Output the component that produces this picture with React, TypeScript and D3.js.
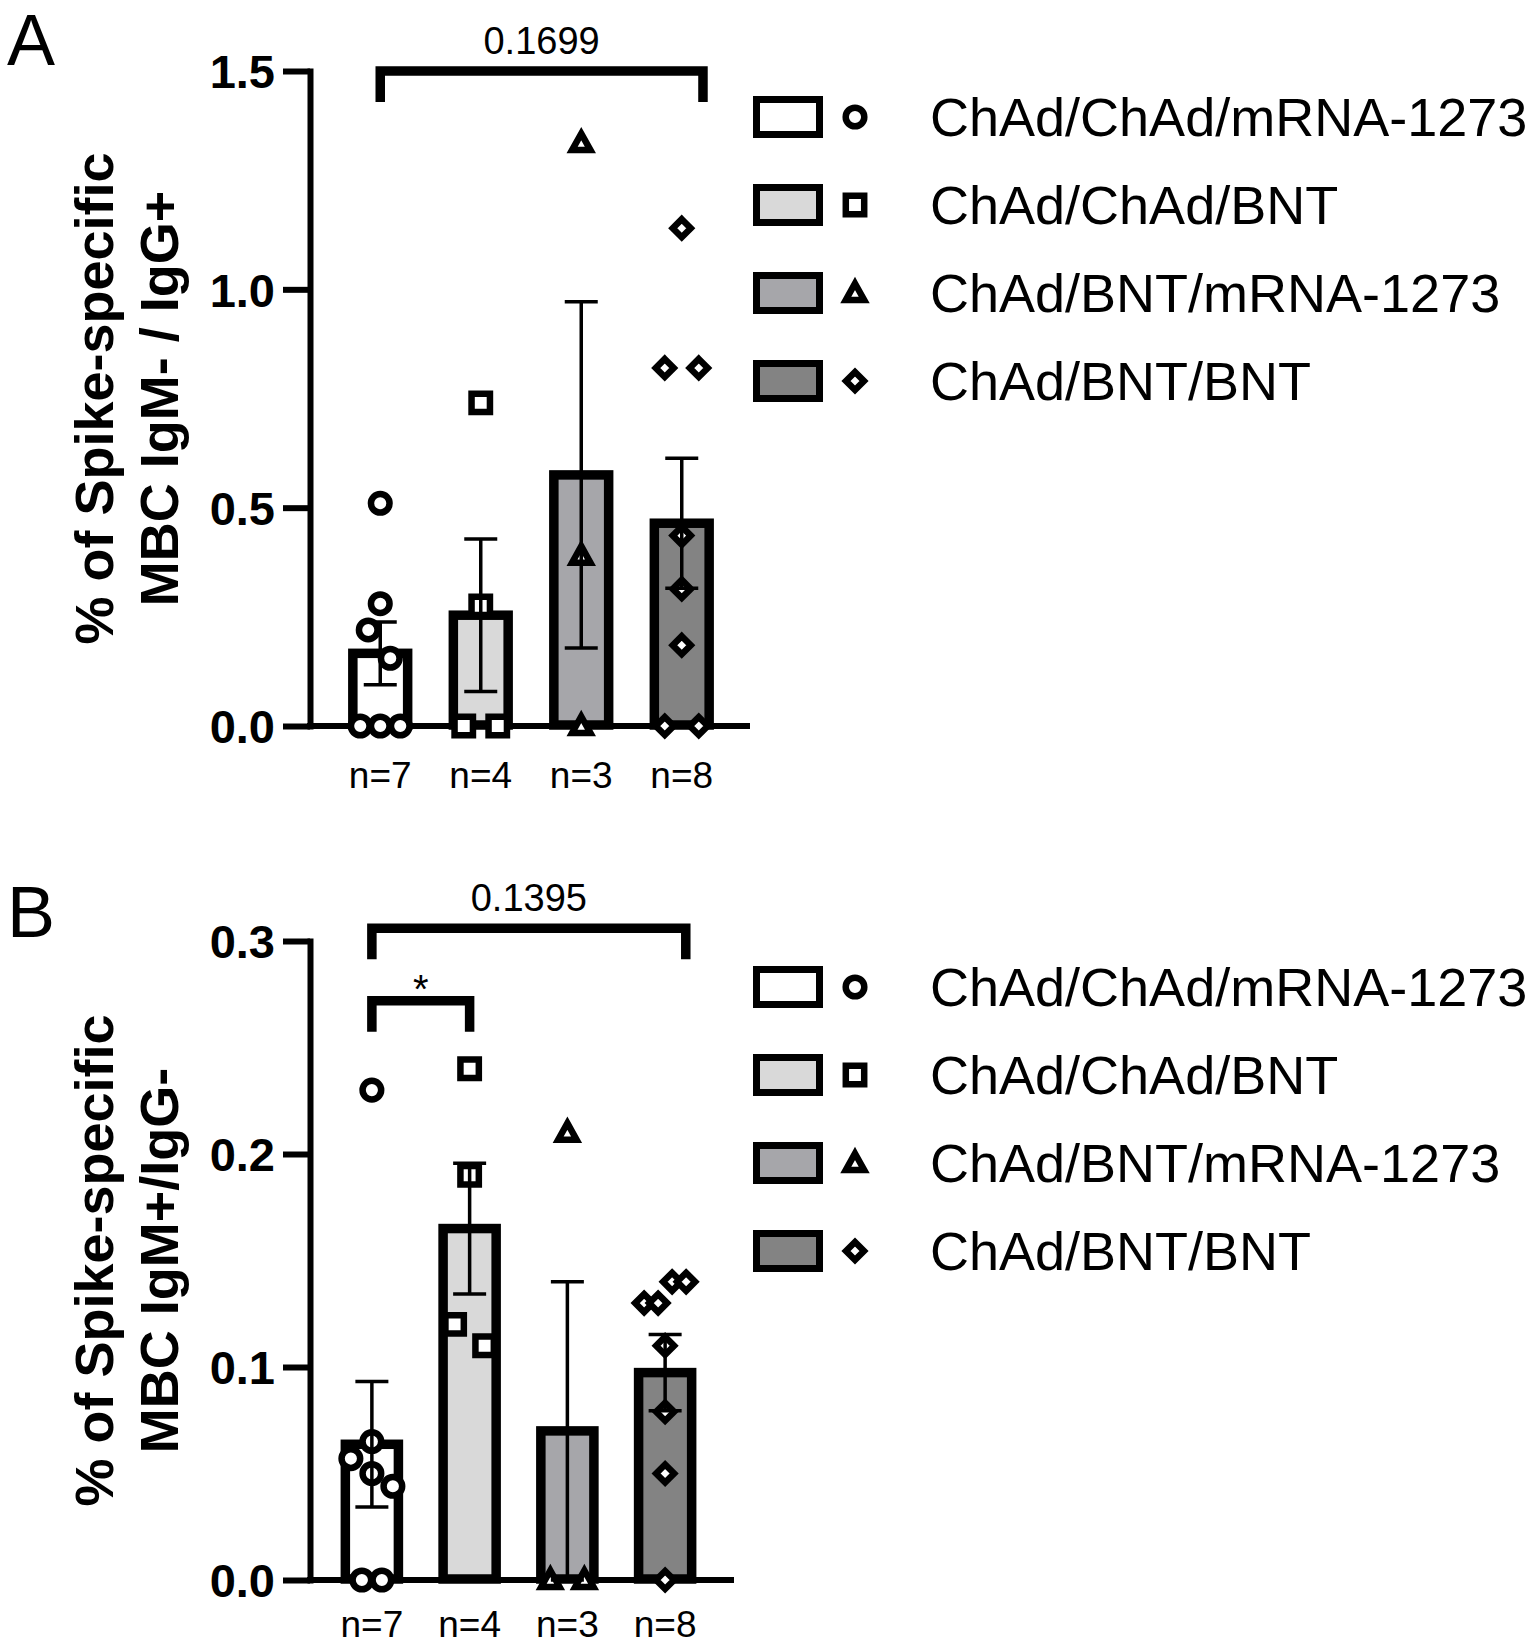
'use client';

import React, { useEffect, useRef } from 'react';
import * as d3 from 'd3';

// Groups shared by both panels
const groups = ['ChAd/ChAd/mRNA-1273', 'ChAd/ChAd/BNT', 'ChAd/BNT/mRNA-1273', 'ChAd/BNT/BNT'];
const groupFills = ['#ffffff', '#d9d9d9', '#a6a6aa', '#838383'];
const groupShapes = ['circle', 'square', 'triangle', 'diamond'];

// Panel A: % of spike-specific MBC IgM- / IgG+ (individual donors)
const valuesIgG = [
    [0.51, 0.28, 0.22, 0.155, 0, 0, 0],
    [0.74, 0.275, 0, 0],
    [1.335, 0.39, 0],
    [1.14, 0.82, 0.82, 0.436, 0.314, 0.185, 0, 0],
];
const ticksIgG = [0, 0.5, 1.0, 1.5];
const titleIgG = ['% of Spike-specific', 'MBC IgM- / IgG+'];
const comparisonsIgG = [{ from: 0, to: 3, level: 1.5, label: '0.1699', long: true }];

// Panel B: % of spike-specific MBC IgM+/IgG-
const valuesIgM = [
    [0.23, 0.065, 0.057, 0.05, 0.044, 0, 0],
    [0.24, 0.19, 0.12, 0.11],
    [0.21, 0, 0],
    [0.14, 0.14, 0.13, 0.13, 0.11, 0.079, 0.05, 0],
];
const ticksIgM = [0, 0.1, 0.2, 0.3];
const titleIgM = ['% of Spike-specific', 'MBC IgM+/IgG-'];
const comparisonsIgM = [
    { from: 0, to: 3, level: 0.306, label: '0.1395', long: true },
    { from: 0, to: 1, level: 0.272, label: '*', long: false },
];

const FONT = "'Liberation Sans', Arial, Helvetica, sans-serif";
const WIDTH = 1528;
const HEIGHT = 1645;
const AXIS_STROKE = 6;
const BAR_STROKE = 9.5;
const MARKER_STROKE = 6.5;
const ERR_STROKE = 3.5;
const BRACKET_STROKE = 9.5;

interface PanelLayout {
    letter: string;
    letterBaseline: number;
    top: number;
    bottom: number;
    axisX: number;
    axisEnd: number;
    bandStart: number;
    bandEnd: number;
    nBaseline: number;
    legendTop: number;
}

const layoutA: PanelLayout = {
    letter: 'A', letterBaseline: 65, top: 71, bottom: 726, axisX: 310, axisEnd: 750,
    bandStart: 330, bandEnd: 732, nBaseline: 788, legendTop: 117,
};
const layoutB: PanelLayout = {
    letter: 'B', letterBaseline: 937, top: 941, bottom: 1580, axisX: 310, axisEnd: 734,
    bandStart: 323, bandEnd: 714, nBaseline: 1637, legendTop: 987,
};

function markerPath(shape: string) {
    const p = d3.path();
    if (shape === 'circle') {
        p.arc(0, 0, 9.3, 0, 2 * Math.PI);
        p.closePath();
    } else if (shape === 'square') {
        p.rect(-9.2, -9.2, 18.4, 18.4);
    } else if (shape === 'triangle') {
        p.moveTo(0, -9.5);
        p.lineTo(9.2, 7);
        p.lineTo(-9.2, 7);
        p.closePath();
    } else {
        p.moveTo(0, -9);
        p.lineTo(9, 0);
        p.lineTo(0, 9);
        p.lineTo(-9, 0);
        p.closePath();
    }
    return p.toString();
}

// scatter spread similar to the column scatter layout: close points get pushed sideways
function spreadOffsets(vals: number[], y: d3.ScaleLinear<number, number>, shape: string) {
    const order = d3.range(vals.length).sort((a, b) => vals[b] - vals[a]);
    const offsets = new Array(vals.length).fill(0);
    const rowGap = shape === 'circle' ? 20 : 34;
    let cluster = [order[0]];
    const flush = () => {
        const m = cluster.length;
        if (m < 2) return;
        const ys = cluster.map(i => y(vals[i]));
        const hasTie = d3.pairs(ys).some(([a, b]) => Math.abs(b - a) < 8);
        if (hasTie) {
            const asc = [...cluster].sort((a, b) => vals[a] - vals[b]);
            const w = Math.min((m - 1) * rowGap, 42);
            asc.forEach((idx, k) => { offsets[idx] = -w / 2 + (k * w) / (m - 1); });
        } else if (m === 2) {
            offsets[cluster[0]] = -15;
            offsets[cluster[1]] = 15;
        } else if (m === 3) {
            const zig = [0, -12, 10];
            cluster.forEach((idx, k) => { offsets[idx] = zig[k]; });
        } else {
            const zig = [0, -21, 0, 21];
            cluster.forEach((idx, k) => { offsets[idx] = zig[k % 4]; });
        }
    };
    for (let k = 1; k < order.length; k++) {
        const prev = order[k - 1];
        const cur = order[k];
        if (Math.abs(y(vals[cur]) - y(vals[prev])) < 31) {
            cluster.push(cur);
        } else {
            flush();
            cluster = [cur];
        }
    }
    flush();
    return offsets;
}

function drawPanel(
    root: d3.Selection<SVGGElement, unknown, null, undefined>,
    values: number[][],
    ticks: number[],
    title: string[],
    comparisons: { from: number; to: number; level: number; label: string; long: boolean }[],
    L: PanelLayout
) {
    const g = root.append('g');

    const y = d3.scaleLinear().domain([0, d3.max(ticks) as number]).range([L.bottom, L.top]);
    const x = d3.scaleBand<number>()
        .domain(d3.range(groups.length))
        .range([L.bandStart, L.bandEnd])
        .paddingInner(0.36)
        .paddingOuter(0.18);
    const bw = x.bandwidth();
    const cx = (i: number) => (x(i) as number) + bw / 2;

    const stats = values.map(v => ({
        mean: d3.mean(v) as number,
        sem: (d3.deviation(v) as number) / Math.sqrt(v.length),
    }));

    // bars
    g.append('g')
        .selectAll('rect')
        .data(stats)
        .join('rect')
        .attr('x', (d, i) => (x(i) as number) + BAR_STROKE / 2)
        .attr('width', bw - BAR_STROKE)
        .attr('y', d => y(d.mean))
        .attr('height', d => y(0) - y(d.mean) - 1)
        .attr('fill', (d, i) => groupFills[i])
        .attr('stroke', '#000')
        .attr('stroke-width', BAR_STROKE)
        .attr('stroke-linejoin', 'miter');

    // y axis
    const yAxis = g.append('g')
        .attr('transform', `translate(${L.axisX},0)`)
        .call(
            d3.axisLeft(y)
                .tickValues(ticks)
                .tickSize(27)
                .tickSizeOuter(0)
                .tickPadding(8)
                .tickFormat(d3.format('.1f'))
        );
    yAxis.attr('font-family', FONT).attr('font-size', 47).attr('font-weight', 'bold');
    yAxis.select('.domain').attr('stroke', '#000').attr('stroke-width', AXIS_STROKE).attr('stroke-linecap', 'square');
    yAxis.selectAll('.tick line').attr('stroke', '#000').attr('stroke-width', AXIS_STROKE);
    yAxis.selectAll('.tick text').attr('fill', '#000').attr('dy', '0.36em');

    // x axis (no ticks)
    g.append('line')
        .attr('x1', L.axisX - AXIS_STROKE / 2)
        .attr('x2', L.axisEnd)
        .attr('y1', y(0))
        .attr('y2', y(0))
        .attr('stroke', '#000')
        .attr('stroke-width', AXIS_STROKE);

    // individual points
    values.forEach((vals, i) => {
        const offsets = spreadOffsets(vals, y, groupShapes[i]);
        g.append('g')
            .selectAll('path')
            .data(vals)
            .join('path')
            .attr('d', markerPath(groupShapes[i]))
            .attr('transform', (v, k) => `translate(${cx(i) + offsets[k]},${y(v)})`)
            .attr('fill', '#fff')
            .attr('stroke', '#000')
            .attr('stroke-width', MARKER_STROKE)
            .attr('stroke-linejoin', 'miter');
    });

    // error bars (mean ± SEM)
    const err = g.append('g').attr('stroke', '#000').attr('stroke-width', ERR_STROKE);
    stats.forEach((s, i) => {
        const lo = y(Math.max(0, s.mean - s.sem));
        const hi = y(s.mean + s.sem);
        err.append('line').attr('x1', cx(i)).attr('x2', cx(i)).attr('y1', lo).attr('y2', hi);
        [lo, hi].forEach(yy => {
            err.append('line').attr('x1', cx(i) - 16.5).attr('x2', cx(i) + 16.5).attr('y1', yy).attr('y2', yy);
        });
    });

    // significance brackets
    comparisons.forEach(c => {
        const x1 = cx(c.from);
        const x2 = cx(c.to) + (c.long ? bw * 0.33 : 0);
        const yTop = y(c.level);
        const legLen = 31;
        const p = d3.path();
        p.moveTo(x1, yTop + legLen);
        p.lineTo(x1, yTop);
        p.lineTo(x2, yTop);
        p.lineTo(x2, yTop + legLen);
        g.append('path')
            .attr('d', p.toString())
            .attr('fill', 'none')
            .attr('stroke', '#000')
            .attr('stroke-width', BRACKET_STROKE)
            .attr('stroke-linejoin', 'miter');
        g.append('text')
            .attr('x', (x1 + x2) / 2)
            .attr('y', c.label === '*' ? yTop + 2 : yTop - 17)
            .attr('text-anchor', 'middle')
            .attr('font-family', FONT)
            .attr('font-size', c.label === '*' ? 40 : 38)
            .text(c.label);
    });

    // group sizes under the bars
    g.append('g')
        .selectAll('text')
        .data(values)
        .join('text')
        .attr('x', (d, i) => cx(i))
        .attr('y', L.nBaseline)
        .attr('text-anchor', 'middle')
        .attr('font-family', FONT)
        .attr('font-size', 37)
        .text(d => `n=${d.length}`);

    // y title (two lines)
    const midY = (L.top + L.bottom) / 2;
    [113, 178].forEach((bx, k) => {
        g.append('text')
            .attr('transform', `translate(${bx},${midY}) rotate(-90)`)
            .attr('text-anchor', 'middle')
            .attr('font-family', FONT)
            .attr('font-size', 54)
            .attr('font-weight', 'bold')
            .text(title[k]);
    });

    // panel letter
    g.append('text')
        .attr('x', 7)
        .attr('y', L.letterBaseline)
        .attr('font-family', FONT)
        .attr('font-size', 72)
        .text(L.letter);

    // legend
    const legend = g.append('g');
    groups.forEach((name, i) => {
        const ry = L.legendTop + i * 88;
        legend.append('rect')
            .attr('x', 756.5)
            .attr('y', ry - 17.5)
            .attr('width', 63)
            .attr('height', 35)
            .attr('fill', groupFills[i])
            .attr('stroke', '#000')
            .attr('stroke-width', 7);
        legend.append('path')
            .attr('d', markerPath(groupShapes[i]))
            .attr('transform', `translate(855,${ry})`)
            .attr('fill', '#fff')
            .attr('stroke', '#000')
            .attr('stroke-width', MARKER_STROKE);
        legend.append('text')
            .attr('x', 930)
            .attr('y', ry + 19)
            .attr('font-family', FONT)
            .attr('font-size', 54)
            .text(name);
    });
}

export default function App() {
    const svgRef = useRef<SVGSVGElement>(null);

    useEffect(() => {
        document.body.style.margin = '0';
        if (!svgRef.current) return;
        const svg = d3.select(svgRef.current);
        svg.selectAll('*').remove();

        const root = svg.append('g');
        root.append('rect').attr('width', WIDTH).attr('height', HEIGHT).attr('fill', '#fff');

        drawPanel(root, valuesIgG, ticksIgG, titleIgG, comparisonsIgG, layoutA);
        drawPanel(root, valuesIgM, ticksIgM, titleIgM, comparisonsIgM, layoutB);
    }, []);

    return (
        <svg
            ref={svgRef}
            width={WIDTH}
            height={HEIGHT}
            viewBox={`0 0 ${WIDTH} ${HEIGHT}`}
            style={{ display: 'block', background: '#fff' }}
        />
    );
}
